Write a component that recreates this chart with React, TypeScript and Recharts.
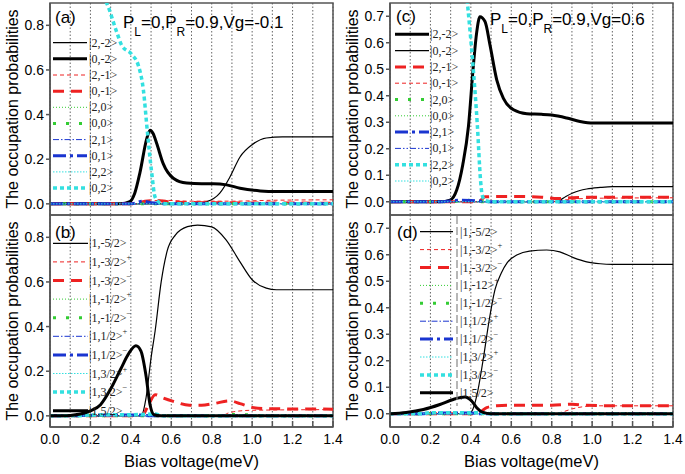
import React from 'react';
import { LineChart, Line, XAxis, YAxis, CartesianGrid, ReferenceArea } from 'recharts';

type P = [number, number];

// ---------- tick labels ----------
const X_TICKS = [0, 0.1, 0.2, 0.3, 0.4, 0.5, 0.6, 0.7, 0.8, 0.9, 1.0, 1.1, 1.2, 1.3, 1.4];
const Y_TICKS_AB = [0, 0.2, 0.4, 0.6, 0.8];
const Y_TICKS_CD = [0, 0.1, 0.2, 0.3, 0.4, 0.5, 0.6, 0.7];
const X_TITLE = 'Bias voltage(meV)';
const Y_TITLE = 'The occupation probabilities';
const TITLE_A = ['P', 'L', '=0,P', 'R', '=0.9,Vg=-0.1'];
const TITLE_C = ['P', 'L', '=0,P', 'R', '=0.9,Vg=0.6'];

const ZERO: P[] = [[0, 0], [1.4, 0]];

// ---------- panel (a) ----------
const A_2m2: P[] = [[0, 0], [0.7, 0], [0.775, 0.01], [0.84, 0.048], [0.89, 0.12], [0.94, 0.21], [1.0, 0.265], [1.07, 0.295], [1.15, 0.3], [1.4, 0.3]];
const A_0m2: P[] = [[0, 0], [0.35, 0], [0.395, 0.01], [0.42, 0.05], [0.445, 0.14], [0.478, 0.29], [0.495, 0.33], [0.51, 0.315], [0.528, 0.27], [0.56, 0.18], [0.61, 0.115], [0.676, 0.093], [0.75, 0.09], [0.808, 0.09], [0.874, 0.085], [0.94, 0.07], [1.04, 0.058], [1.12, 0.055], [1.4, 0.055]];
const A_2m1: P[] = [[0, 0], [0.45, 0], [0.5, 0.012], [0.55, 0.016], [0.7, 0.012], [0.9, 0.012], [1.1, 0.016], [1.4, 0.018]];
const A_0m1: P[] = [[0, 0], [0.42, 0], [0.47, 0.012], [0.52, 0.015], [0.6, 0.008], [0.8, 0.005], [1.4, 0.003]];
const A_01: P[] = [[0, 0], [0.4, 0], [0.46, 0.012], [0.5, 0.005], [0.6, 0], [1.4, 0]];
const A_02: P[] = [[0, 1.0], [0.15, 0.99], [0.22, 0.96], [0.28, 0.9], [0.33, 0.77], [0.355, 0.71], [0.404, 0.67], [0.437, 0.62], [0.462, 0.51], [0.482, 0.32], [0.503, 0.14], [0.52, 0.03], [0.55, 0.003], [0.6, 0], [1.4, 0]];

// ---------- panel (b) ----------
const B_m52: P[] = [[0, 0], [0.44, 0], [0.455, 0.005], [0.475, 0.08], [0.5, 0.26], [0.52, 0.38], [0.55, 0.6], [0.58, 0.74], [0.62, 0.81], [0.68, 0.848], [0.73, 0.855], [0.8, 0.847], [0.87, 0.79], [0.94, 0.69], [1.0, 0.61], [1.07, 0.572], [1.12, 0.565], [1.4, 0.565]];
const B_m32p: P[] = [[0, 0], [0.85, 0], [0.88, 0.012], [0.92, 0.02], [1.0, 0.025], [1.4, 0.028]];
const B_m32m: P[] = [[0, 0], [0.44, 0], [0.46, 0.005], [0.485, 0.045], [0.52, 0.095], [0.56, 0.08], [0.61, 0.065], [0.69, 0.048], [0.75, 0.048], [0.81, 0.055], [0.89, 0.067], [0.94, 0.055], [1.0, 0.038], [1.07, 0.032], [1.4, 0.03]];
const B_m12m: P[] = [[0, 0], [0.85, 0], [0.9, 0.006], [1.0, 0.004], [1.05, 0], [1.4, 0]];
const B_12m: P[] = [[0, 0], [0.1, 0], [0.2, 0.003], [0.45, 0.004], [0.5, 0], [1.4, 0]];
const B_32m: P[] = [[0, 0], [0.12, 0], [0.2, 0.004], [0.4, 0.005], [0.52, 0.008], [0.56, 0], [1.4, 0]];
const B_52: P[] = [[0, 0], [0.1, 0.002], [0.15, 0.008], [0.2, 0.022], [0.25, 0.05], [0.3, 0.12], [0.35, 0.21], [0.39, 0.28], [0.425, 0.314], [0.45, 0.29], [0.475, 0.18], [0.495, 0.05], [0.515, 0.005], [0.55, 0], [1.4, 0]];

// ---------- panel (c) ----------
const C_2m2: P[] = [[0, 0], [0.25, 0], [0.297, 0.006], [0.33, 0.044], [0.36, 0.14], [0.388, 0.284], [0.412, 0.51], [0.429, 0.64], [0.445, 0.698], [0.47, 0.68], [0.495, 0.59], [0.528, 0.46], [0.561, 0.39], [0.611, 0.347], [0.677, 0.332], [0.75, 0.33], [0.8, 0.327], [0.874, 0.316], [0.94, 0.303], [1.006, 0.297], [1.4, 0.297]];
const C_0m2: P[] = [[0, 0], [0.8, 0], [0.84, 0.006], [0.87, 0.02], [0.907, 0.034], [0.973, 0.048], [1.04, 0.054], [1.1, 0.057], [1.4, 0.057]];
const C_2m1: P[] = [[0, 0], [0.44, 0], [0.455, 0.01], [0.47, 0.019], [0.6, 0.02], [0.75, 0.017], [0.83, 0.012], [0.9, 0.015], [1.0, 0.017], [1.4, 0.017]];
const C_0m1: P[] = [[0, 0], [0.8, 0], [0.88, 0.008], [1.0, 0.013], [1.4, 0.015]];
const C_20: P[] = [[0, 0], [0.3, 0], [0.38, 0.006], [0.45, 0], [1.4, 0]];
const C_21: P[] = [[0, 0], [0.25, 0], [0.35, 0.006], [0.4, 0.005], [0.45, 0.002], [0.5, 0], [1.4, 0]];
const C_22: P[] = [[0, 1.0], [0.3, 0.99], [0.36, 0.93], [0.383, 0.75], [0.41, 0.52], [0.432, 0.29], [0.448, 0.08], [0.456, 0.025], [0.47, 0.005], [0.5, 0], [1.4, 0]];

// ---------- panel (d) ----------
const D_m52: P[] = [[0, 0], [0.38, 0], [0.405, 0.01], [0.43, 0.07], [0.46, 0.2], [0.49, 0.35], [0.52, 0.47], [0.55, 0.53], [0.58, 0.57], [0.63, 0.6], [0.69, 0.614], [0.775, 0.618], [0.84, 0.611], [0.907, 0.589], [0.973, 0.573], [1.04, 0.566], [1.1, 0.564], [1.4, 0.564]];
const D_m32p: P[] = [[0, 0], [0.8, 0], [0.85, 0.006], [0.9, 0.018], [0.95, 0.026], [1.0, 0.03], [1.4, 0.03]];
const D_m32m: P[] = [[0, 0], [0.43, 0], [0.445, 0.005], [0.478, 0.023], [0.528, 0.03], [0.6, 0.032], [0.8, 0.032], [0.9, 0.036], [0.97, 0.032], [1.1, 0.03], [1.4, 0.03]];
const D_12m: P[] = [[0, 0], [0.15, 0], [0.25, 0.003], [0.4, 0.003], [0.45, 0], [1.4, 0]];
const D_32m: P[] = [[0, 0], [0.15, 0], [0.2, 0.004], [0.4, 0.004], [0.47, 0.002], [0.5, 0], [1.4, 0]];
const D_52: P[] = [[0, 0], [0.08, 0.005], [0.165, 0.016], [0.247, 0.035], [0.313, 0.054], [0.371, 0.063], [0.404, 0.048], [0.429, 0.023], [0.46, 0.005], [0.5, 0], [1.4, 0]];

// ---------- styles ----------
const BLACK = '#000000';
const RED = '#ee2222';
const GREEN = '#33cc33';
const BLUE = '#1a35d0';
const CYAN = '#33e0e0';

const STY: Record<string, { w: number; dash?: string }> = {
  solidThin: { w: 1.2 },
  solidThick: { w: 3 },
  dashThin: { w: 1, dash: '4 3' },
  dashThick: { w: 3, dash: '11 7' },
  dotThin: { w: 1, dash: '1 2' },
  dotThick: { w: 3, dash: '3 10' },
  ddThin: { w: 1, dash: '6 2 1.5 2' },
  ddThick: { w: 3, dash: '13 4 3 4' },
  dddThin: { w: 1, dash: '6 2 1.5 2 1.5 2' },
  cyThin: { w: 1, dash: '1.5 1.5' },
  cyThick: { w: 3.5, dash: '4 3' },
};

type S = { label: string; sup?: string; pts: P[]; color: string; sty: string };

const SER_A: S[] = [
  { label: '|2,-2>', pts: A_2m2, color: BLACK, sty: 'solidThin' },
  { label: '|0,-2>', pts: A_0m2, color: BLACK, sty: 'solidThick' },
  { label: '|2,-1>', pts: A_2m1, color: RED, sty: 'dashThin' },
  { label: '|0,-1>', pts: A_0m1, color: RED, sty: 'dashThick' },
  { label: '|2,0>', pts: ZERO, color: GREEN, sty: 'dotThin' },
  { label: '|0,0>', pts: ZERO, color: GREEN, sty: 'dotThick' },
  { label: '|2,1>', pts: ZERO, color: BLUE, sty: 'ddThin' },
  { label: '|0,1>', pts: A_01, color: BLUE, sty: 'ddThick' },
  { label: '|2,2>', pts: ZERO, color: CYAN, sty: 'cyThin' },
  { label: '|0,2>', pts: A_02, color: CYAN, sty: 'cyThick' },
];
const SER_B: S[] = [
  { label: '|1,-5/2>', pts: B_m52, color: BLACK, sty: 'solidThin' },
  { label: '|1,-3/2>', sup: '+', pts: B_m32p, color: RED, sty: 'dashThin' },
  { label: '|1,-3/2>', sup: '\u2212', pts: B_m32m, color: RED, sty: 'dashThick' },
  { label: '|1,-1/2>', sup: '+', pts: ZERO, color: GREEN, sty: 'dotThin' },
  { label: '|1,-1/2>', sup: '\u2212', pts: B_m12m, color: GREEN, sty: 'dotThick' },
  { label: '|1,1/2>', sup: '+', pts: ZERO, color: BLUE, sty: 'ddThin' },
  { label: '|1,1/2>', sup: '\u2212', pts: B_12m, color: BLUE, sty: 'ddThick' },
  { label: '|1,3/2>', sup: '+', pts: ZERO, color: CYAN, sty: 'cyThin' },
  { label: '|1,3/2>', sup: '\u2212', pts: B_32m, color: CYAN, sty: 'cyThick' },
  { label: '|1,5/2>', pts: B_52, color: BLACK, sty: 'solidThick' },
];
const SER_C: S[] = [
  { label: '|2,-2>', pts: C_2m2, color: BLACK, sty: 'solidThick' },
  { label: '|0,-2>', pts: C_0m2, color: BLACK, sty: 'solidThin' },
  { label: '|2,-1>', pts: C_2m1, color: RED, sty: 'dashThick' },
  { label: '|0,-1>', pts: C_0m1, color: RED, sty: 'dashThin' },
  { label: '|2,0>', pts: C_20, color: GREEN, sty: 'dotThick' },
  { label: '|0,0>', pts: ZERO, color: GREEN, sty: 'dotThin' },
  { label: '|2,1>', pts: C_21, color: BLUE, sty: 'ddThick' },
  { label: '|0,1>', pts: ZERO, color: BLUE, sty: 'dddThin' },
  { label: '|2,2>', pts: C_22, color: CYAN, sty: 'cyThick' },
  { label: '|0,2>', pts: ZERO, color: CYAN, sty: 'cyThin' },
];
const SER_D: S[] = [
  { label: '|1,-5/2>', pts: D_m52, color: BLACK, sty: 'solidThin' },
  { label: '|1,-3/2>', sup: '+', pts: D_m32p, color: RED, sty: 'dashThin' },
  { label: '|1,-3/2>', sup: '\u2212', pts: D_m32m, color: RED, sty: 'dashThick' },
  { label: '|1,-12>', sup: '+', pts: ZERO, color: GREEN, sty: 'dotThin' },
  { label: '|1,-1/2>', sup: '\u2212', pts: ZERO, color: GREEN, sty: 'dotThick' },
  { label: '|1,1/2>', sup: '+', pts: ZERO, color: BLUE, sty: 'ddThin' },
  { label: '|1,1/2>', sup: '\u2212', pts: D_12m, color: BLUE, sty: 'ddThick' },
  { label: '|1,3/2>', sup: '+', pts: ZERO, color: CYAN, sty: 'cyThin' },
  { label: '|1,3/2>', sup: '\u2212', pts: D_32m, color: CYAN, sty: 'cyThick' },
  { label: '|1,5/2>', pts: D_52, color: BLACK, sty: 'solidThick' },
];

const FONT = "'Liberation Sans', Arial, sans-serif";
const SERIF = "'Liberation Serif', 'Times New Roman', serif";
const FRAME = '#555555';

const fmtX = (v: number) => (Math.round(v * 10) % 2 === 0 ? v.toFixed(1) : '');

function Panel(props: { left: number; top: number; height: number; rightMargin: number; showX: boolean; series: S[]; yDomain: [number, number]; yTicks: number[] }) {
  const { left, top, height, rightMargin, showX, series, yDomain, yTicks } = props;
  return (
    <div style={{ position: 'absolute', left, top }}>
      <LineChart width={333 + rightMargin} height={height} margin={{ top: 3, right: rightMargin, bottom: showX ? 0 : 3, left: 0 }}>
        <CartesianGrid horizontal={false} stroke="#666" strokeDasharray="1.5 2" />
        <XAxis
          type="number"
          dataKey="x"
          domain={[0, 1.4]}
          ticks={X_TICKS}
          interval={0}
          allowDataOverflow
          height={showX ? 47 : 0}
          tickSize={-6}
          tickMargin={13}
          tickFormatter={showX ? fmtX : () => ''}
          tick={{ fontSize: 14, fill: '#000', fontFamily: FONT }}
          stroke={FRAME}
          strokeWidth={1.5}
          label={showX ? { value: X_TITLE, position: 'insideBottom', offset: 7, style: { fontSize: 16.5, fill: '#000', fontFamily: FONT } } : undefined}
        />
        <YAxis
          type="number"
          domain={yDomain}
          ticks={yTicks}
          interval={0}
          allowDataOverflow
          width={50}
          tickSize={4}
          tickMargin={2}
          tickFormatter={(v: number) => v.toFixed(1)}
          tick={{ fontSize: 14, fill: '#000', fontFamily: FONT }}
          stroke={FRAME}
          strokeWidth={1.5}
        />
        <ReferenceArea x1={0} x2={1.4} y1={yDomain[0]} y2={yDomain[1]} fill="none" fillOpacity={0} stroke={FRAME} strokeWidth={1.5} ifOverflow="visible" />
        {series.map((s, i) => (
          <Line
            key={i}
            data={s.pts.map(([x, y]) => ({ x, y }))}
            dataKey="y"
            type="monotone"
            stroke={s.color}
            strokeWidth={STY[s.sty].w}
            strokeDasharray={STY[s.sty].dash}
            dot={false}
            activeDot={false}
            isAnimationActive={false}
            legendType="none"
          />
        ))}
      </LineChart>
    </div>
  );
}

function LegendBlock(props: { series: S[]; x1: number; x2: number; tx: number; y0: number; dy: number }) {
  const { series, x1, x2, tx, y0, dy } = props;
  return (
    <g>
      {series.map((s, i) => {
        const y = y0 + i * dy;
        return (
          <g key={i}>
            <line x1={x1} x2={x2} y1={y} y2={y} stroke={s.color} strokeWidth={STY[s.sty].w} strokeDasharray={STY[s.sty].dash} />
            <text x={tx} y={y + 4} fontFamily={SERIF} fontSize={12} fill="#222">
              {s.label}
              {s.sup ? (
                <tspan fontSize={8.5} dy={-6}>
                  {s.sup}
                </tspan>
              ) : null}
            </text>
          </g>
        );
      })}
    </g>
  );
}

function Title(props: { x: number; y: number; parts: string[] }) {
  const { x, y, parts } = props;
  return (
    <text x={x} y={y} fontFamily={FONT} fontSize={17} fill="#000">
      <tspan>{parts[0]}</tspan>
      <tspan fontSize={12} dy={8}>{parts[1]}</tspan>
      <tspan dy={-8}>{parts[2]}</tspan>
      <tspan fontSize={12} dy={8}>{parts[3]}</tspan>
      <tspan dy={-8}>{parts[4]}</tspan>
    </text>
  );
}

export default function App() {
  return (
    <div style={{ position: 'fixed', left: 0, top: 0, width: 685, height: 474, background: '#fff', overflow: 'hidden', fontFamily: FONT }}>
      <Panel left={0} top={0} height={218} rightMargin={12} showX={false} series={SER_A} yDomain={[-0.05, 0.9]} yTicks={Y_TICKS_AB} />
      <Panel left={0} top={212} height={262} rightMargin={12} showX={true} series={SER_B} yDomain={[-0.05, 0.9]} yTicks={Y_TICKS_AB} />
      <Panel left={340} top={0} height={218} rightMargin={12} showX={false} series={SER_C} yDomain={[-0.05, 0.75]} yTicks={Y_TICKS_CD} />
      <Panel left={340} top={212} height={262} rightMargin={12} showX={true} series={SER_D} yDomain={[-0.05, 0.75]} yTicks={Y_TICKS_CD} />
      <svg width={685} height={474} style={{ position: 'absolute', left: 0, top: 0, pointerEvents: 'none' }}>
        <LegendBlock series={SER_A} x1={53} x2={87} tx={89} y0={42.7} dy={16.15} />
        <LegendBlock series={SER_B} x1={53} x2={88} tx={89} y0={243.3} dy={18.6} />
        <LegendBlock series={SER_C} x1={395} x2={429} tx={430} y0={34.3} dy={16.3} />
        <LegendBlock series={SER_D} x1={420} x2={453} tx={460} y0={231.7} dy={17.9} />
        <line x1={457} x2={457} y1={216} y2={406} stroke="#888" strokeWidth={1.2} strokeDasharray="8 3" />
        <text x={55} y={23} fontFamily={FONT} fontSize={17} fill="#000">(a)</text>
        <text x={55} y={238} fontFamily={FONT} fontSize={17} fill="#000">(b)</text>
        <text x={396} y={22} fontFamily={FONT} fontSize={17} fill="#000">(c)</text>
        <text x={397} y={238} fontFamily={FONT} fontSize={17} fill="#000">(d)</text>
        <Title x={123} y={28} parts={TITLE_A} />
        <Title x={490} y={25} parts={TITLE_C} />
        {[[12.5, 109], [12.5, 321], [352.5, 109], [352.5, 321]].map(([x, y], i) => (
          <text key={i} transform={`translate(${x},${y}) rotate(-90)`} textAnchor="middle" dominantBaseline="central" fontFamily={FONT} fontSize={16} fill="#000">
            {Y_TITLE}
          </text>
        ))}
      </svg>
    </div>
  );
}
